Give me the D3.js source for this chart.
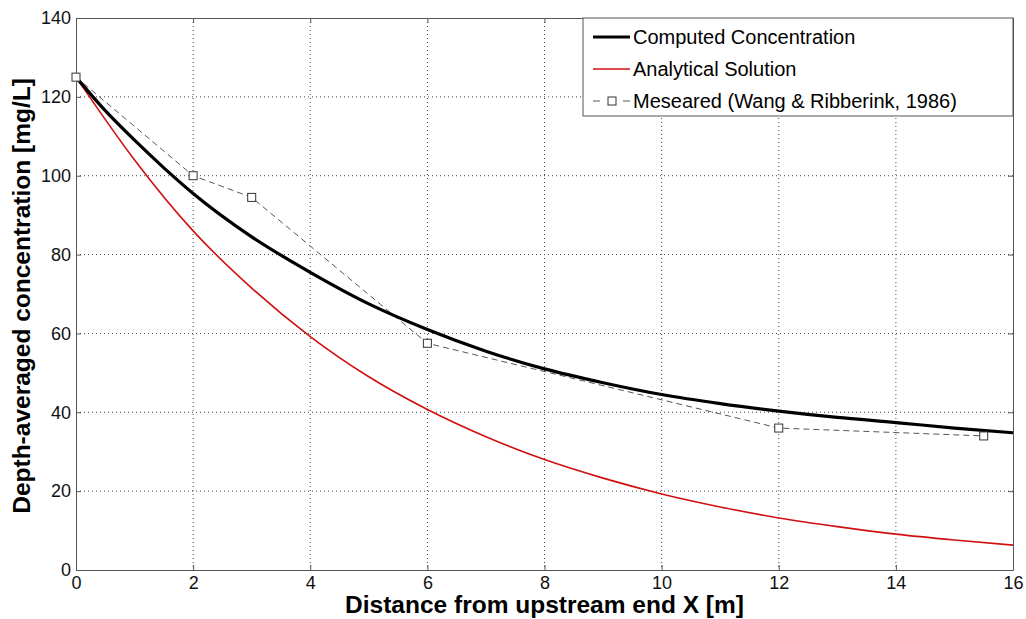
<!DOCTYPE html>
<html>
<head>
<meta charset="utf-8">
<script src="https://cdn.jsdelivr.net/npm/d3@7"></script>
<style>
  body { margin: 0; background: #fff; }
  text { font-family: Arial, "Liberation Sans", sans-serif; }
</style>
</head>
<body>
<div id="chart"></div>
<script>
// values
const xComputed = [0, 0.5, 1, 1.5, 2, 3, 4, 5, 6, 7, 8, 9, 10, 11, 12, 13, 14, 15, 16];
const computed  = [125, 116.5, 109, 102, 95.5, 84.5, 75.5, 67.5, 61, 55.5, 51, 47.5, 44.5, 42.2, 40.3, 38.7, 37.4, 36, 34.8];

const xAnalytical = [0, 1, 2, 3, 4, 5, 6, 7, 8, 9, 10, 11, 12, 13, 14, 15, 16];
const analytical  = [125, 104, 86, 71.5, 59.2, 49, 40.7, 33.8, 28, 23.3, 19.3, 16, 13.2, 11, 9.1, 7.6, 6.3];

const xMeasured = [0, 2, 3, 6, 12, 15.5];
const measured  = [125, 100, 94.5, 57.5, 36, 34];

const xTicks = [0, 2, 4, 6, 8, 10, 12, 14, 16];
const yTicks = [0, 20, 40, 60, 80, 100, 120, 140];

const legendLabels = ["Computed Concentration", "Analytical Solution", "Meseared (Wang & Ribberink, 1986)"];

const W = 1026, H = 619;
const margin = {top: 18, right: 13, bottom: 49, left: 76};
const width = W - margin.left - margin.right;
const height = H - margin.top - margin.bottom;

const svg = d3.select("#chart").append("svg")
    .attr("width", W).attr("height", H);
const g = svg.append("g").attr("transform", `translate(${margin.left},${margin.top})`);

const x = d3.scaleLinear().domain([0, 16]).range([0, width]);
const y = d3.scaleLinear().domain([0, 140]).range([height, 0]);

// dotted grid
g.append("g").selectAll("line").data(xTicks.slice(1, -1)).join("line")
    .attr("x1", d => x(d)).attr("x2", d => x(d))
    .attr("y1", 0).attr("y2", height)
    .attr("stroke", "#444").attr("stroke-width", 1).attr("stroke-dasharray", "1,3");
g.append("g").selectAll("line").data(yTicks.slice(1, -1)).join("line")
    .attr("x1", 0).attr("x2", width)
    .attr("y1", d => y(d)).attr("y2", d => y(d))
    .attr("stroke", "#444").attr("stroke-width", 1).attr("stroke-dasharray", "1,3");

// axes with inward ticks
const xAxis = g.append("g").attr("transform", `translate(0,${height})`)
    .call(d3.axisBottom(x).tickValues(xTicks).tickSizeInner(-5).tickSizeOuter(0).tickPadding(6));
const yAxis = g.append("g")
    .call(d3.axisLeft(y).tickValues(yTicks).tickSizeInner(-5).tickSizeOuter(0).tickPadding(5));
[xAxis, yAxis].forEach(a => {
    a.select(".domain").attr("stroke", "#555");
    a.selectAll(".tick line").attr("stroke", "#555");
    a.selectAll(".tick text").attr("font-size", 18).attr("fill", "#111")
        .attr("font-family", "Arial, 'Liberation Sans', sans-serif");
});
// ticks on top and right too
g.append("g").call(d3.axisTop(x).tickValues(xTicks).tickSizeInner(-5).tickSizeOuter(0).tickFormat(""))
    .call(a => a.selectAll("line,path").attr("stroke", "#555"));
g.append("g").attr("transform", `translate(${width},0)`)
    .call(d3.axisRight(y).tickValues(yTicks).tickSizeInner(-5).tickSizeOuter(0).tickFormat(""))
    .call(a => a.selectAll("line,path").attr("stroke", "#555"));

// series
const line = d3.line().x(d => x(d[0])).y(d => y(d[1])).curve(d3.curveMonotoneX);
const linear = d3.line().x(d => x(d[0])).y(d => y(d[1]));

g.append("path").datum(d3.zip(xAnalytical, analytical))
    .attr("d", line).attr("fill", "none").attr("stroke", "#d01010").attr("stroke-width", 1.6);

g.append("path").datum(d3.zip(xMeasured, measured))
    .attr("d", linear).attr("fill", "none").attr("stroke", "#555")
    .attr("stroke-width", 1).attr("stroke-dasharray", "6,4");

g.append("path").datum(d3.zip(xComputed, computed))
    .attr("d", line).attr("fill", "none").attr("stroke", "#000").attr("stroke-width", 3.2);

g.append("g").selectAll("rect").data(d3.zip(xMeasured, measured)).join("rect")
    .attr("x", d => x(d[0]) - 4).attr("y", d => y(d[1]) - 4)
    .attr("width", 8).attr("height", 8)
    .attr("fill", "#fff").attr("stroke", "#333").attr("stroke-width", 1);

// legend
const lg = svg.append("g").attr("transform", `translate(583,${margin.top})`);
lg.append("rect").attr("width", W - margin.right - 583).attr("height", 98)
    .attr("fill", "#fff").attr("stroke", "#555");
const rowY = [19, 51, 83];
lg.append("line").attr("x1", 10).attr("x2", 47).attr("y1", rowY[0]).attr("y2", rowY[0])
    .attr("stroke", "#000").attr("stroke-width", 3.2);
lg.append("line").attr("x1", 10).attr("x2", 47).attr("y1", rowY[1]).attr("y2", rowY[1])
    .attr("stroke", "#d01010").attr("stroke-width", 1.6);
lg.append("line").attr("x1", 10).attr("x2", 47).attr("y1", rowY[2]).attr("y2", rowY[2])
    .attr("stroke", "#555").attr("stroke-width", 1).attr("stroke-dasharray", "7,8");
lg.append("rect").attr("x", 25).attr("y", rowY[2] - 4).attr("width", 8).attr("height", 8)
    .attr("fill", "#fff").attr("stroke", "#333");
lg.selectAll("text.lbl").data(legendLabels).join("text")
    .attr("class", "lbl")
    .attr("x", 50).attr("y", (d, i) => rowY[i]).attr("dy", "0.35em")
    .attr("font-size", 20).attr("fill", "#000").text(d => d);

// axis titles
svg.append("text").attr("x", margin.left + width / 2).attr("y", 613)
    .attr("text-anchor", "middle").attr("font-size", 24.5).attr("font-weight", "bold")
    .text("Distance from upstream end X [m]");
svg.append("text").attr("transform", `translate(30,296) rotate(-90)`)
    .attr("text-anchor", "middle").attr("font-size", 24.5).attr("font-weight", "bold")
    .text("Depth-averaged concentration [mg/L]");
</script>
</body>
</html>
